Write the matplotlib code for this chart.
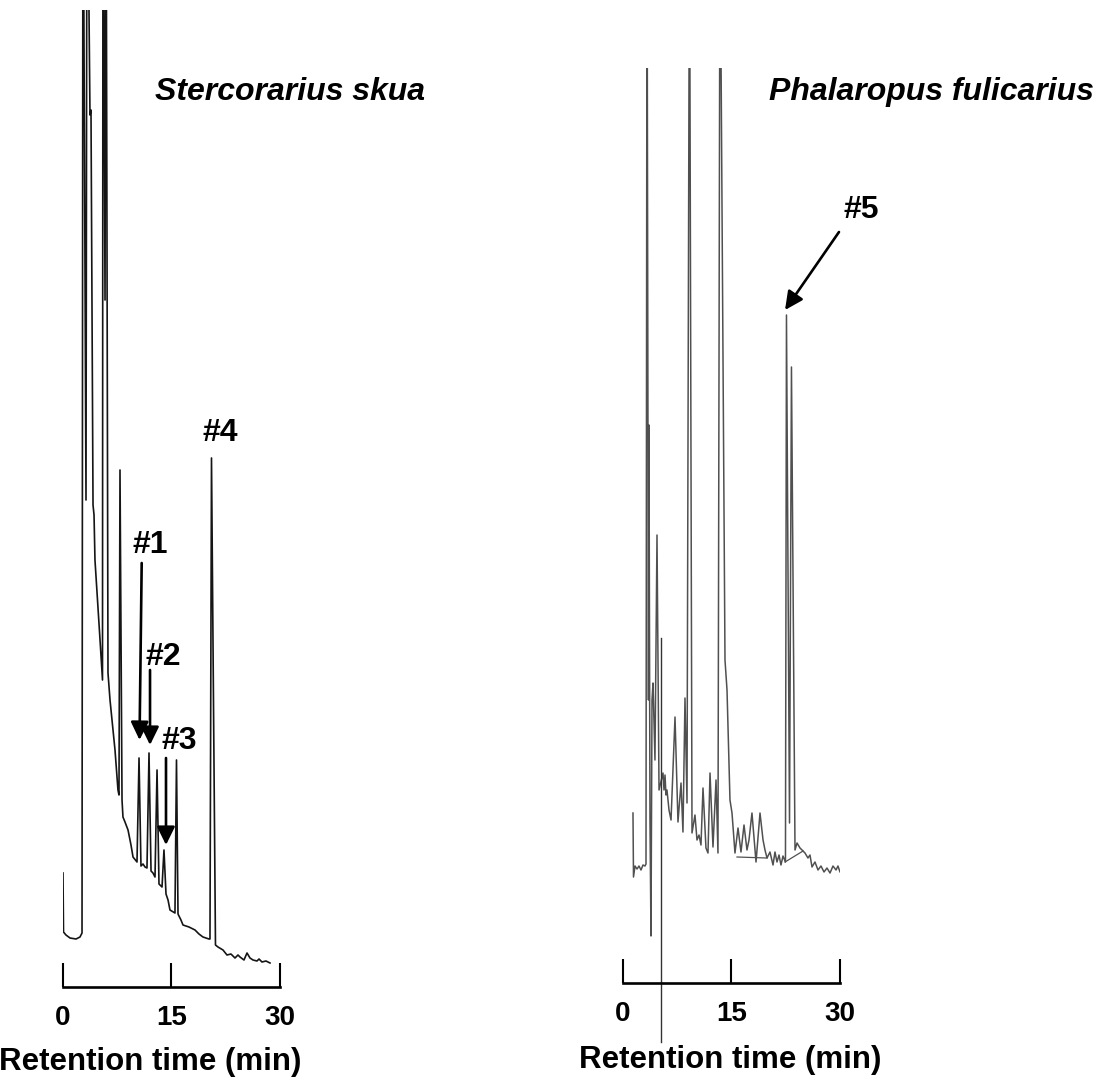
import matplotlib.pyplot as plt

plt.rcParams["font.family"] = ["Liberation Sans", "DejaVu Sans"]

# retention time (min) and detector signal (arbitrary units)
skua_time = [0.00, 0.07, 0.41, 0.97, 1.80, 2.35, 2.63, 2.76, 3.18, 3.32, 3.73, 3.87,
             4.15, 4.29, 4.42, 5.12, 5.46, 5.53, 5.81, 5.94, 6.22, 6.50, 7.19, 7.60,
             7.74, 7.88, 8.16, 8.29, 8.57, 8.99, 9.40, 9.68, 10.23, 10.51, 10.78, 11.06,
             11.34, 11.61, 11.89, 12.17, 12.44, 12.72, 13.00, 13.27, 13.69, 13.96, 14.24,
             14.52, 14.79, 15.48, 15.69, 15.90, 16.31, 16.59, 17.42, 18.25, 18.80, 19.35,
             20.18, 20.32, 20.53, 21.08, 21.43, 22.12, 22.67, 23.22, 23.78, 24.19, 24.47,
             25.02, 25.44, 25.85, 26.27, 26.82, 27.10, 27.51, 28.06, 28.62]
skua_signal = [12.7, 6.8, 6.5, 6.2, 6.1, 6.3, 6.7, 120, 50.0, 120, 88.5, 89.0,
               49.5, 48.5, 44.0, 36.0, 32.0, 120, 70.0, 120, 32.7, 30.0, 25.0, 21.0,
               20.5, 53.0, 20.0, 18.3, 17.8, 17.0, 15.5, 14.3, 13.8, 24.2, 13.4, 13.6,
               13.3, 13.2, 24.7, 12.9, 12.7, 12.3, 23.0, 11.6, 11.3, 15.0, 10.6,
               10.0, 9.0, 8.7, 24.0, 8.6, 8.0, 7.5, 7.3, 7.0, 6.6, 6.3,
               6.1, 6.1, 54.2, 5.5, 5.3, 5.0, 4.5, 4.6, 4.2, 4.5, 4.3,
               4.0, 4.7, 4.2, 4.0, 3.9, 4.1, 3.8, 3.9, 3.7]

phal_time = [1.38, 1.45, 1.66, 1.94, 2.21, 2.49, 2.76, 3.04, 3.18, 3.32, 3.52, 3.59,
             3.73, 3.87, 4.01, 4.15, 4.42, 4.70, 4.98, 5.53, 5.67, 5.81, 5.94, 6.08,
             6.36, 6.64, 7.19, 7.60, 8.02, 8.29, 8.57, 8.85, 9.19, 9.54, 9.95, 10.23,
             10.51, 10.78, 11.06, 11.47, 11.75, 12.03, 12.44, 12.86, 13.13, 13.41, 14.10,
             14.38, 14.79, 15.07, 15.48, 15.90, 16.31, 16.73, 17.14, 17.42, 17.83, 18.39,
             18.94, 19.36, 19.63, 19.91, 20.32, 20.74, 21.01, 21.29, 21.57, 21.84, 22.12,
             22.46, 22.60, 23.02, 23.29, 23.78, 24.06, 24.47, 24.75, 25.16, 25.57, 25.85,
             26.13, 26.54, 26.96, 27.37, 27.79, 28.20, 28.62, 29.03, 29.45, 29.72, 30.00,
             30.28]
phal_signal = [18.7, 12.3, 13.4, 13.1, 13.4, 13.0, 13.5, 13.4, 13.6, 110, 30.0, 57.5,
               18.0, 6.4, 30.0, 31.7, 24.0, 46.5, 21.0, 22.7, 21.0, 22.5, 20.5, 21.0,
               19.0, 18.0, 28.3, 17.8, 21.7, 16.8, 30.2, 19.7, 110, 16.7, 18.5, 16.0,
               16.5, 15.5, 21.2, 15.2, 14.7, 22.7, 15.3, 22.0, 14.7, 110, 34.0,
               31.0, 20.0, 18.7, 14.7, 17.2, 14.8, 17.5, 15.0, 16.0, 18.7, 13.8,
               18.7, 16.0, 15.0, 14.2, 14.8, 13.5, 14.8, 13.8, 14.5, 13.5, 14.4,
               13.8, 68.5, 17.7, 63.3, 15.0, 15.7, 15.2, 15.0, 14.7, 14.2, 14.5,
               13.3, 13.8, 13.0, 13.4, 12.8, 13.2, 12.7, 13.4, 13.0, 13.4, 12.8,
               12.7]

# integrator baselines drawn under peak groups
phal_base_time = [(15.76, 19.91), (22.40, 24.89)]
phal_base_signal = [(14.3, 14.2), (13.8, 14.9)]
# marker line crossing the time axis
mark_time = 5.25
mark_signal = (36.2, -4.2)

ticks = [0, 15, 30]
tick_labels = ["0", "15", "30"]

fig = plt.figure(figsize=(11.01, 10.80), dpi=100)
ax_l = fig.add_axes([0.05722, 0.08611, 0.19709, 0.90463])
ax_r = fig.add_axes([0.56585, 0.08981, 0.19709, 0.84722])


def style_axis(ax, ylim):
    ax.set_xlim(0, 30)
    ax.set_ylim(*ylim)
    for side in ["left", "right", "top"]:
        ax.spines[side].set_visible(False)
    ax.spines["bottom"].set_linewidth(1.9)
    ax.set_yticks([])
    ax.set_xticks(ticks)
    ax.set_xticklabels(tick_labels, fontsize=20, fontweight="bold")
    ax.tick_params(axis="x", direction="in", length=17, width=1.5, pad=13)
    ax.patch.set_alpha(0)


style_axis(ax_l, (1.3, 99.0))
style_axis(ax_r, (1.7, 93.2))

ax_l.plot(skua_time, skua_signal, color="#151515", lw=1.2)
ax_r.plot(phal_time, phal_signal, color="#505050", lw=1.1)
for t, s in zip(phal_base_time, phal_base_signal):
    ax_r.plot(t, s, color="#505050", lw=0.9)
ax_r.plot([mark_time, mark_time], mark_signal, color="#333333", lw=1.0, clip_on=False)

arrow = dict(arrowstyle="-|>,head_length=0.55,head_width=0.27", color="black",
             lw=1.9, mutation_scale=20, shrinkA=0, shrinkB=0)
label_kw = dict(fontsize=23, fontweight="bold", ha="center", va="center")

ax_l.annotate("", xy=(10.58, 26.0), xytext=(10.88, 43.7), arrowprops=arrow)
ax_l.annotate("", xy=(12.03, 25.5), xytext=(12.03, 33.0), arrowprops=arrow)
ax_l.annotate("", xy=(14.24, 15.5), xytext=(14.24, 24.2), arrowprops=arrow)
ax_l.text(12.03, 45.5, "#1", **label_kw)
ax_l.text(13.82, 34.3, "#2", **label_kw)
ax_l.text(16.04, 25.9, "#3", **label_kw)
ax_l.text(21.71, 56.7, "#4", **label_kw)

ax_r.annotate("", xy=(22.40, 69.0), xytext=(29.86, 76.8), arrowprops=arrow,
              annotation_clip=False)
ax_r.text(32.90, 79.0, "#5", **label_kw)

fig.text(290 / 1101, 1 - 100 / 1080, "Stercorarius skua", fontsize=23,
         fontweight="bold", style="italic", ha="center", va="baseline")
fig.text(931 / 1101, 1 - 100 / 1080, "Phalaropus fulicarius", fontsize=23,
         fontweight="bold", style="italic", ha="center", va="baseline")

fig.text(150 / 1101, 1 - 1070 / 1080, "Retention time (min)", fontsize=22.5,
         fontweight="bold", ha="center", va="baseline")
fig.text(730 / 1101, 1 - 1068 / 1080, "Retention time (min)", fontsize=22.5,
         fontweight="bold", ha="center", va="baseline")

fig.savefig("out.png", dpi=100, facecolor="white")
